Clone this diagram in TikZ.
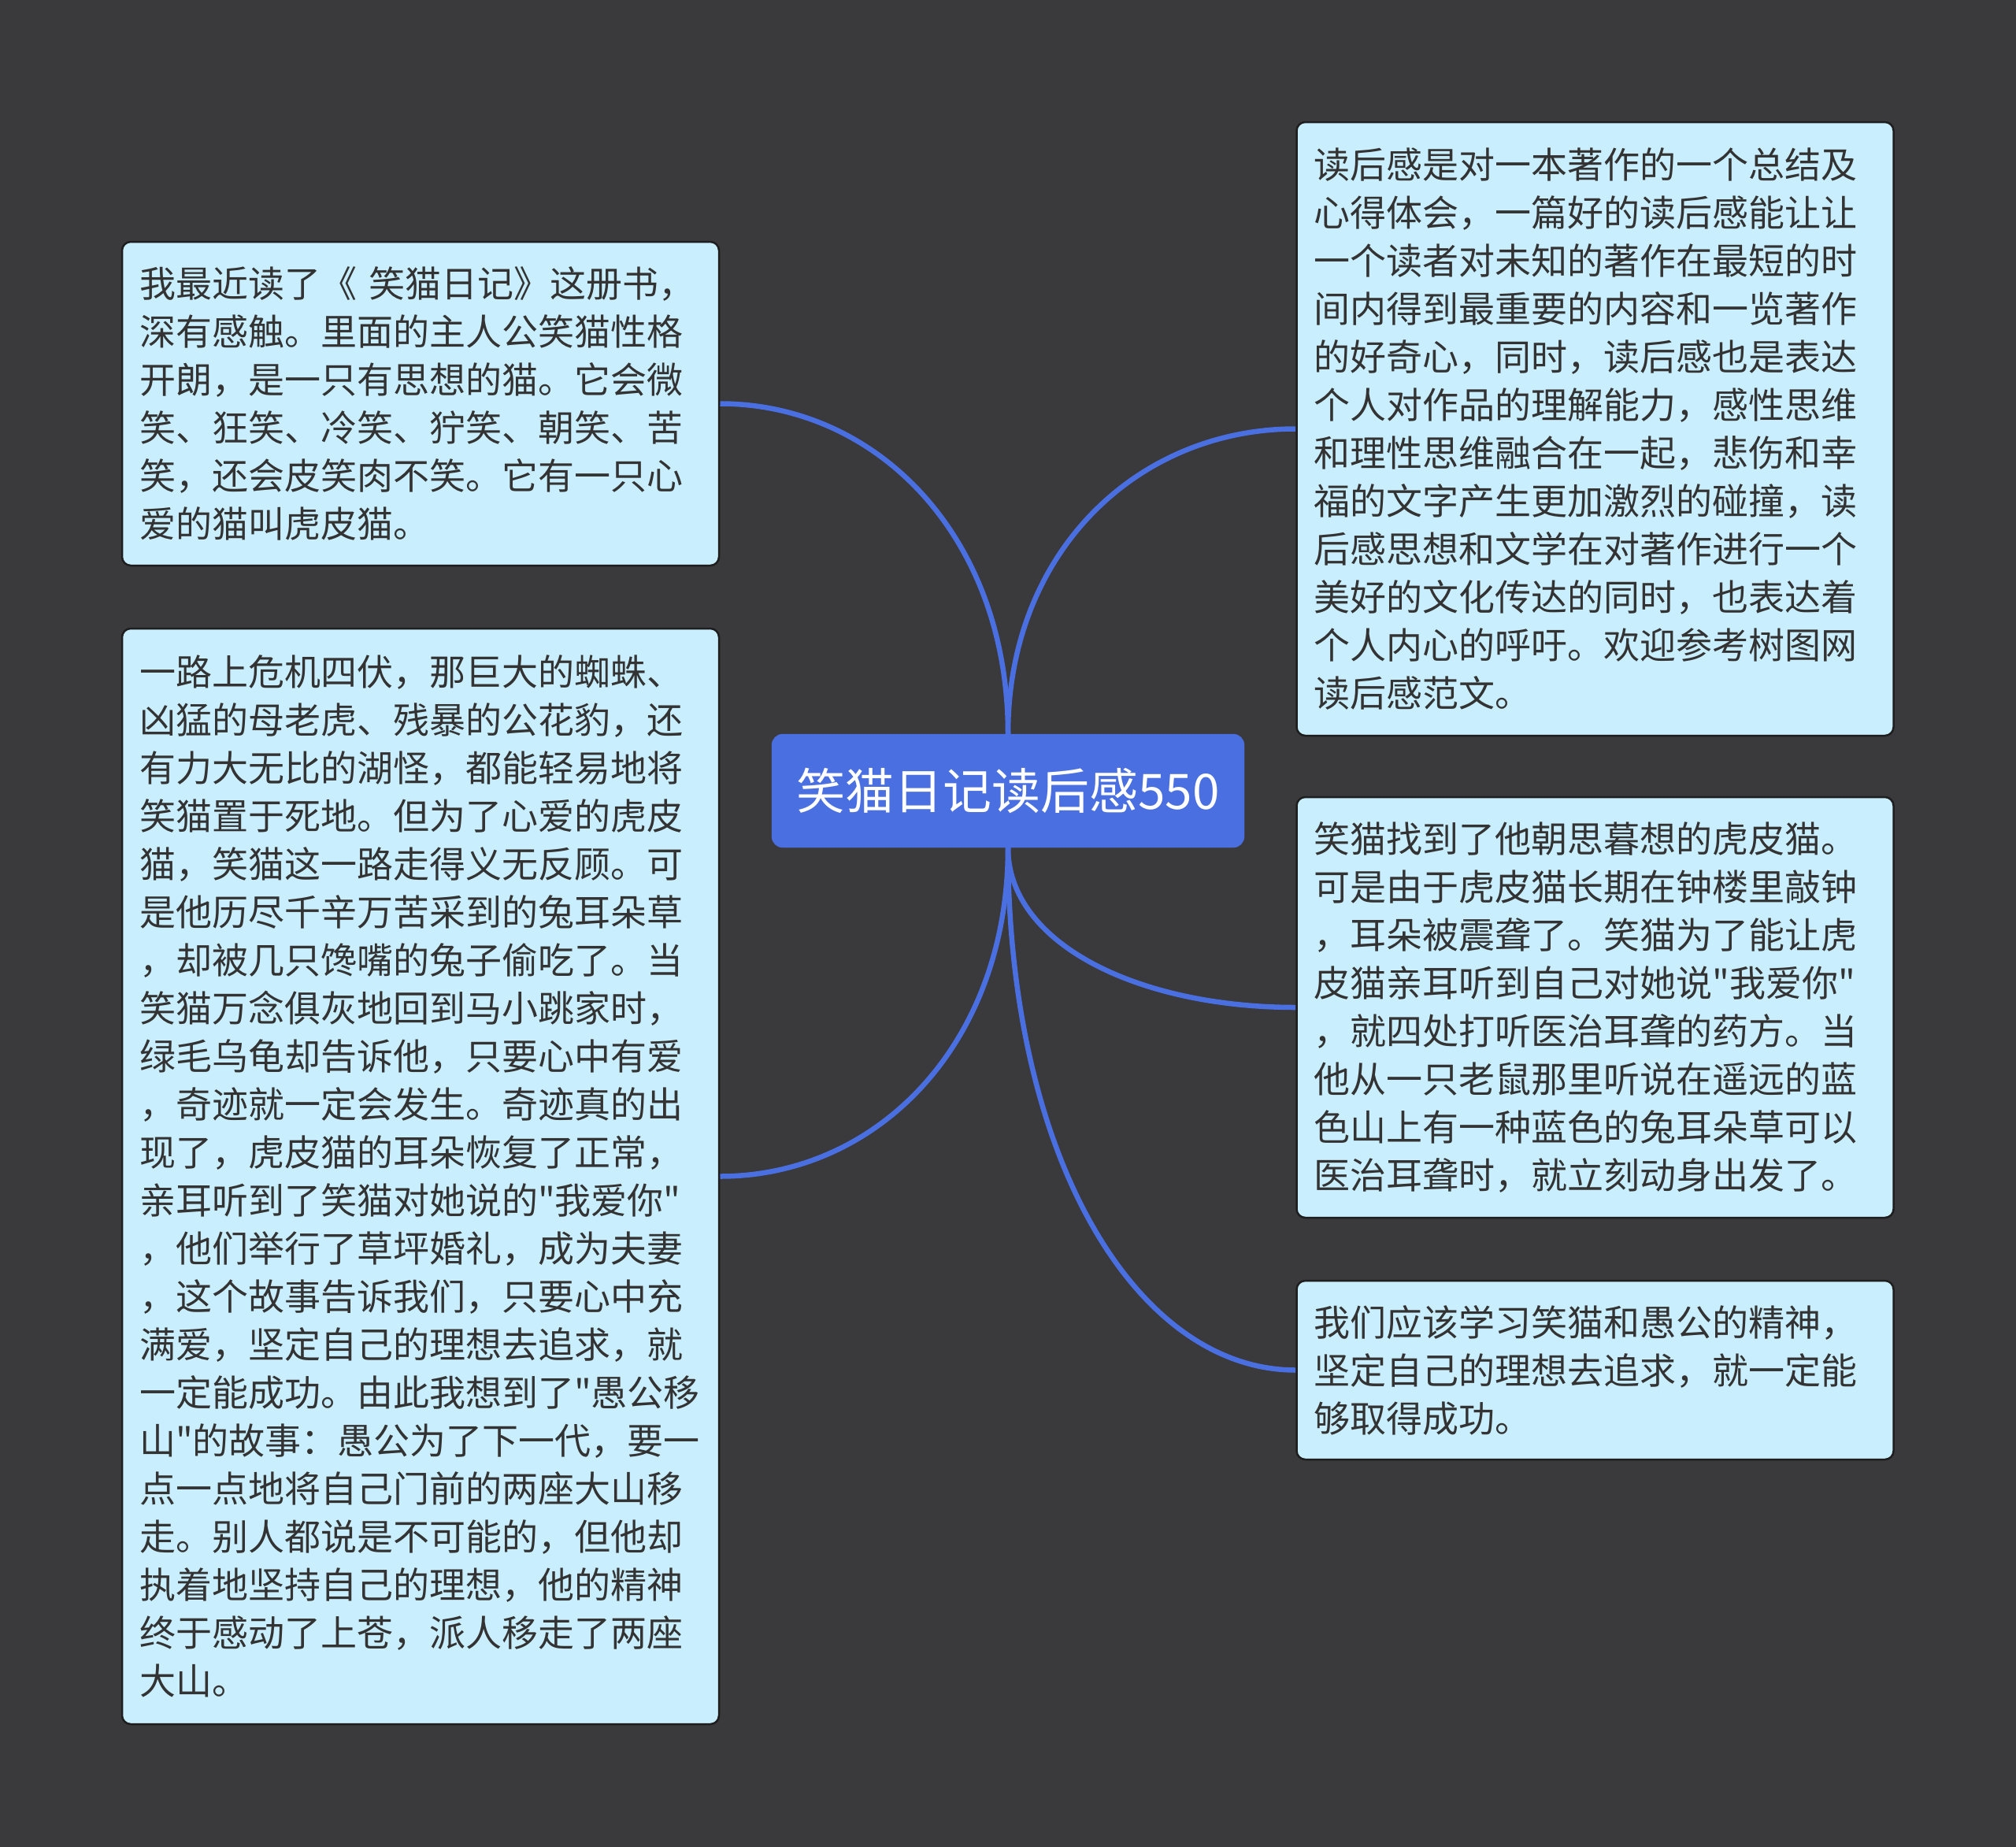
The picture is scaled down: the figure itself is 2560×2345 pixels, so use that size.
\documentclass[tikz,border=0pt]{standalone}
\usepackage{fontspec}
\newfontfamily\cjk{Noto Sans CJK SC}
\usetikzlibrary{backgrounds}
\definecolor{bg}{HTML}{3A393B}
\definecolor{boxfill}{HTML}{C9EEFD}
\definecolor{boxline}{HTML}{1E1E1E}
\definecolor{txt}{HTML}{333333}
\definecolor{mainblue}{HTML}{4A6FE0}
\begin{document}
\begin{tikzpicture}[x=1pt,y=-1pt,
  topic/.style={rectangle, rounded corners=14pt, fill=mainblue, draw=mainblue,
    minimum width=600pt, minimum height=144pt, inner sep=0pt,
    text=white, font=\cjk\fontsize{62}{70}\selectfont},
  leaf/.style={rectangle, rounded corners=11pt, fill=boxfill, draw=boxline, line width=2.5pt,
    text width=714pt, inner xsep=22pt, inner ysep=0pt, align=left,
    text=txt, font=\cjk\fontsize{46}{61}\selectfont},
  link/.style={draw=mainblue, line width=6.5pt}]
\useasboundingbox (0,0) rectangle (2560,2345);

\node[topic] (c) at (1280,1004) {笑猫日记读后感550};

\node[leaf, minimum height=411pt] (lt) at (534,512.5) {我最近读了《 笑猫日记》这册书，\\
深有感触。里面的主人公笑猫性格\\
开朗，是一只有思想的猫。它会微\\
笑、狂笑、冷笑、狞笑、朝笑、苦\\
笑，还会皮笑肉不笑。它有一只心\\
爱的猫叫虎皮猫。};

\node[leaf, minimum height=1391pt] (lb) at (534,1493.5) {一路上危机四伏，那巨大的蜘蛛、\\
凶猛的母老虎、残暴的公花豹，还\\
有力大无比的湖怪，都能轻易地将\\
笑猫置于死地。但为了心爱的虎皮\\
猫，笑猫这一路走得义无反顾。可\\
是他历尽千辛万苦采到的兔耳朵草\\
，却被几只馋嘴的兔子偷吃了。当\\
笑猫万念俱灰地回到马小跳家时，\\
绿毛乌龟却告诉他，只要心中有爱\\
，奇迹就一定会发生。奇迹真的出\\
现了，虎皮猫的耳朵恢复了正常，\\
亲耳听到了笑猫对她说的"我爱你"\\
，他们举行了草坪婚礼，成为夫妻\\
，这个故事告诉我们，只要心中充\\
满爱，坚定自己的理想去追求，就\\
一定能成功。由此我想到了"愚公移\\
山"的故事：愚公为了下一代，要一\\
点一点地将自己门前的两座大山移\\
走。别人都说是不可能的，但他却\\
执着地坚持自己的理想，他的精神\\
终于感动了上苍，派人移走了两座\\
大山。};

\node[leaf, minimum height=779pt] (rt) at (2025.5,544.5) {读后感是对一本著作的一个总结及\\
心得体会，一篇好的读后感能让让\\
一个读者对未知的著作在最短的时\\
间内得到最重要的内容和一览著作\\
的好奇心，同时，读后感也是表达\\
个人对作品的理解能力，感性思维\\
和理性思维融合在一起，悲伤和幸\\
福的文字产生更加激烈的碰撞，读\\
后感思想和文学在对著作进行一个\\
美好的文化传达的同时，也表达着\\
个人内心的呼吁。欢迎参考树图网\\
读后感范文。};

\node[leaf, minimum height=534pt] (rm) at (2025.5,1279) {笑猫找到了他朝思暮想的虎皮猫。\\
可是由于虎皮猫长期在钟楼里敲钟\\
，耳朵被震聋了。笑猫为了能让虎\\
皮猫亲耳听到自己对她说"我爱你"\\
，就四处打听医治耳聋的药方。当\\
他从一只老鼠那里听说在遥远的蓝\\
色山上有一种蓝色的兔耳朵草可以\\
医治耳聋时，就立刻动身出发了。};

\node[leaf, minimum height=227pt] (rb) at (2025.5,1739.5) {我们应该学习笑猫和愚公的精神，\\
坚定自己的理想去追求，就一定能\\
够取得成功。};

\begin{scope}[on background layer]
\fill[bg] (0,0) rectangle (2560,2345);
\draw[link] (c.north) .. controls +(0,-250) and +(200,0) .. (lt.east);
\draw[link] (c.north) .. controls +(0,-232) and +(-200,0) .. (rt.west);
\draw[link] (c.south) .. controls +(0,249) and +(200,0) .. (lb.east);
\draw[link] (c.south) .. controls +(0,122) and +(-200,0) .. (rm.west);
\draw[link] (c.south) .. controls +(0,398) and +(-200,0) .. (rb.west);
\end{scope}
\end{tikzpicture}
\end{document}
